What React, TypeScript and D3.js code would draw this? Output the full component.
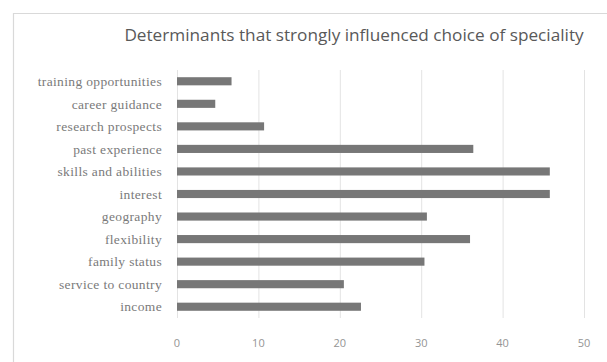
import React, { useEffect, useRef } from "react";
import * as d3 from "d3";

// categories top to bottom
const categories = [
    "training opportunities",
    "career guidance",
    "research prospects",
    "past experience",
    "skills and abilities",
    "interest",
    "geography",
    "flexibility",
    "family status",
    "service to country",
    "income",
];
const values = [6.7, 4.7, 10.7, 36.4, 45.8, 45.8, 30.7, 36.0, 30.4, 20.5, 22.6];
const xTicks = [0, 10, 20, 30, 40, 50];
const title = "Determinants that strongly influenced choice of speciality";

const App = (): JSX.Element => {
    const ref = useRef<SVGSVGElement>(null);
    const width = 607;
    const height = 362;
    const margin = { top: 70, right: 23, bottom: 44, left: 177 };

    useEffect(() => {
        if (!ref.current) return;
        document.body.style.margin = "0";
        document.body.style.overflow = "hidden";
        const svg = d3.select(ref.current);
        svg.selectAll("*").remove();

        // chart frame (only top and left edges fall inside the picture)
        svg.append("path")
            .attr("d", `M13.5,${height}V13.5H${width}`)
            .attr("fill", "none")
            .attr("stroke", "#d9d9d9")
            .attr("stroke-width", 1.2);

        svg.append("text")
            .attr("x", 354)
            .attr("y", 41)
            .attr("text-anchor", "middle")
            .attr("font-family", "Open Sans, sans-serif")
            .attr("font-size", 17.2)
            .attr("fill", "#595959")
            .text(title);

        const x = d3.scaleLinear().domain([0, 50]).range([margin.left, width - margin.right]);
        const y = d3
            .scaleBand()
            .domain(categories)
            .range([margin.top, height - margin.bottom])
            .paddingInner(0.64)
            .paddingOuter(0.32);

        // gridlines
        svg.append("g")
            .selectAll("line")
            .data(xTicks)
            .join("line")
            .attr("x1", (d) => x(d) + 0.5)
            .attr("x2", (d) => x(d) + 0.5)
            .attr("y1", margin.top)
            .attr("y2", height - margin.bottom)
            .attr("stroke", "#e3e3e3")
            .attr("stroke-width", 1);

        // x tick labels
        svg.append("g")
            .selectAll("text")
            .data(xTicks)
            .join("text")
            .attr("x", (d) => x(d))
            .attr("y", 347)
            .attr("text-anchor", "middle")
            .attr("font-family", "Open Sans, sans-serif")
            .attr("font-size", 11)
            .attr("fill", "#949494")
            .text((d) => d);

        // category labels
        svg.append("g")
            .selectAll("text")
            .data(categories)
            .join("text")
            .attr("x", 162)
            .attr("y", (d) => (y(d) as number) + y.bandwidth() / 2)
            .attr("dy", "0.35em")
            .attr("text-anchor", "end")
            .attr("font-family", "Liberation Serif, serif")
            .attr("font-size", 13.5)
            .attr("letter-spacing", 0.35)
            .attr("fill", "#7a7a7a")
            .text((d) => d);

        // bars
        svg.append("g")
            .attr("fill", "#777777")
            .selectAll("rect")
            .data(values)
            .join("rect")
            .attr("x", x(0))
            .attr("y", (d, i) => y(categories[i]) as number)
            .attr("width", (d) => x(d) - x(0))
            .attr("height", y.bandwidth());
    }, []);

    return <svg ref={ref} width={width} height={height} style={{ display: "block", background: "#fff" }} />;
};

export default App;
